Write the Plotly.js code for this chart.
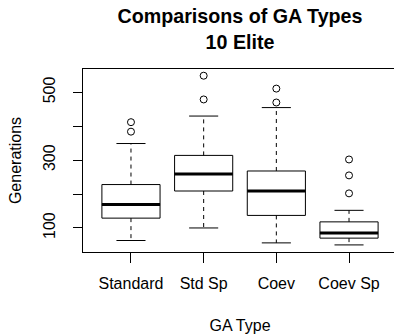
<!DOCTYPE html>
<html>
<head>
<meta charset="utf-8">
<script src="https://cdn.plot.ly/plotly-3.0.1.min.js"></script>
<style>
html, body { margin: 0; padding: 0; overflow: hidden; background: #fff; }
#chart { width: 400px; height: 334px; }
</style>
</head>
<body>
<div id="chart"></div>
<script>
// ---- data ----
const categories = ['Standard', 'Std Sp', 'Coev', 'Coev Sp'];
const lowerWhisker = [63, 100, 56, 50];
const q1 = [129, 209, 137, 70];
const median = [169, 259, 209, 85];
const q3 = [228, 314, 268, 118];
const upperWhisker = [349, 430, 455, 152];
const outliers = [[384, 412], [479, 549], [470, 511], [202, 255, 302]];
const yTickValues = [100, 200, 300, 400, 500];
const yTickLabels = ['100', '', '300', '', '500'];

const FONT = 'Liberation Sans, Arial, Helvetica, sans-serif';
const pos = categories.map((c, i) => i + 1);
const boxHalf = 0.4, capHalf = 0.2;

const traces = [];

// boxes (library box trace with precomputed stats)
categories.forEach((c, i) => {
  traces.push({
    type: 'box', x: [pos[i]], q1: [q1[i]], median: [median[i]], q3: [q3[i]],
    lowerfence: [q1[i]], upperfence: [q3[i]],
    width: boxHalf * 2, whiskerwidth: 0,
    boxpoints: false, fillcolor: '#ffffff',
    line: { color: '#000000', width: 1 },
    hoverinfo: 'skip', showlegend: false
  });
});

// dashed whiskers
const wx = [], wy = [];
categories.forEach((c, i) => {
  wx.push(pos[i], pos[i], null, pos[i], pos[i], null);
  wy.push(q3[i], upperWhisker[i], null, q1[i], lowerWhisker[i], null);
});
traces.push({ type: 'scatter', mode: 'lines', x: wx, y: wy,
  line: { color: '#000', width: 1, dash: '4px,4px' }, hoverinfo: 'skip', showlegend: false });

// whisker caps
const cx = [], cy = [];
categories.forEach((c, i) => {
  cx.push(pos[i] - capHalf, pos[i] + capHalf, null, pos[i] - capHalf, pos[i] + capHalf, null);
  cy.push(upperWhisker[i], upperWhisker[i], null, lowerWhisker[i], lowerWhisker[i], null);
});
traces.push({ type: 'scatter', mode: 'lines', x: cx, y: cy,
  line: { color: '#000', width: 1 }, hoverinfo: 'skip', showlegend: false });

// thick medians
const mx = [], my = [];
categories.forEach((c, i) => {
  mx.push(pos[i] - boxHalf, pos[i] + boxHalf, null);
  my.push(median[i], median[i], null);
});
traces.push({ type: 'scatter', mode: 'lines', x: mx, y: my,
  line: { color: '#000', width: 3 }, hoverinfo: 'skip', showlegend: false });

// outliers
const ox = [], oy = [];
outliers.forEach((arr, i) => arr.forEach(v => { ox.push(pos[i]); oy.push(v); }));
traces.push({ type: 'scatter', mode: 'markers', x: ox, y: oy,
  marker: { symbol: 'circle-open', size: 7, color: '#000', line: { width: 1, color: '#000' } },
  hoverinfo: 'skip', showlegend: false });

const layout = {
  width: 400, height: 334,
  margin: { l: 83, r: 3, t: 69, b: 82, pad: 0 },
  paper_bgcolor: '#ffffff', plot_bgcolor: '#ffffff',
  font: { family: FONT, color: '#000', size: 16 },
  title: {
    text: 'Comparisons of GA Types<br>10 Elite',
    font: { family: FONT, size: 19.7, weight: 'bold', color: '#000' },
    xref: 'paper', x: 0.5, xanchor: 'center',
    yref: 'container', y: 1 - 23 / 334, yanchor: 'top'
  },
  xaxis: {
    range: [0.34, 4.66], tickmode: 'array', tickvals: pos, ticktext: categories,
    ticks: 'outside', ticklen: 10, tickcolor: '#000', tickwidth: 1,
    showline: true, mirror: true, linecolor: '#000', linewidth: 1,
    showgrid: false, zeroline: false,
    tickfont: { family: FONT, size: 16, color: '#000' },
    ticklabelstandoff: 7,
    title: { text: 'GA Type', font: { family: FONT, size: 16, color: '#000' }, standoff: 28 }
  },
  yaxis: {
    range: [29.1, 568.8], tickmode: 'array', tickvals: yTickValues, ticktext: yTickLabels,
    ticks: 'outside', ticklen: 9, tickcolor: '#000', tickwidth: 1,
    showline: true, mirror: true, linecolor: '#000', linewidth: 1,
    showgrid: false, zeroline: false, tickangle: -90,
    tickfont: { family: FONT, size: 16, color: '#000' },
    ticklabelstandoff: 12,
    title: { text: 'Generations', font: { family: FONT, size: 16, color: '#000' }, standoff: 14 }
  }
};

Plotly.newPlot('chart', traces, layout, { displayModeBar: false, staticPlot: true });
</script>
</body>
</html>
